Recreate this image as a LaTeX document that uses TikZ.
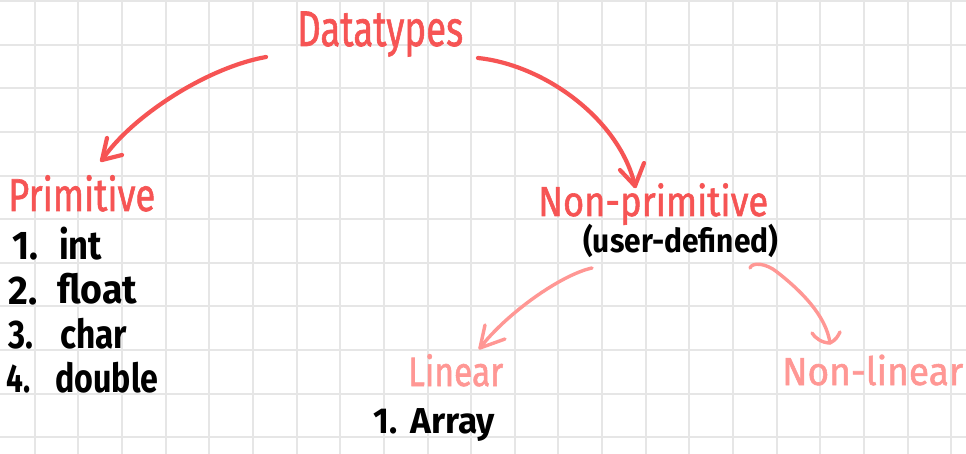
\documentclass[tikz,border=0pt]{standalone}
\usepackage{fontspec}
\setmainfont{Fira Sans}
\newfontfamily\handfont{Fira Sans}[FakeBold=1.4]
\usepackage{graphicx}
\usetikzlibrary{calc}

\definecolor{inkred}{HTML}{F65454}
\definecolor{inkpink}{HTML}{FF9794}
\definecolor{gridgray}{HTML}{E6E6E6}

% stretch a label horizontally to a given width, keeping its height
\newcommand{\wfit}[2]{\resizebox{#1pt}{\height}{#2}}

\begin{document}
\begin{tikzpicture}[x=1pt,y=-1pt,
  title/.style={anchor=base west, inner sep=0pt, text=inkred},
  subtitle/.style={anchor=base west, inner sep=0pt, text=inkpink},
  item/.style={anchor=base west, inner sep=0pt, text=black, font=\fontsize{40}{40}\selectfont\bfseries},
  mainarrow/.style={draw=inkred, line width=4.2pt, line cap=round, line join=round},
  subarrow/.style={draw=inkpink, line width=3.4pt, line cap=round, line join=round}]

\useasboundingbox (0,0) rectangle (966,454);
\fill[white] (0,0) rectangle (966,454);

% squared paper
\foreach \k in {0,...,21}
  \draw[gridgray, line width=2pt] ({34.8+43.64*\k},0) -- ({34.8+43.64*\k},454);
\foreach \k in {0,...,10}
  \draw[gridgray, line width=2pt] (0,{1+43.64*\k}) -- (966,{1+43.64*\k});

% headings
\node[title, font=\handfont\fontsize{50}{50}\selectfont] (dt) at (297,46) {\wfit{166}{Datatypes}};
\node[title, font=\handfont\fontsize{46}{46}\selectfont] (prim) at (8,211) {\wfit{147}{Primitive}};
\node[title, font=\handfont\fontsize{42}{42}\selectfont] (nprim) at (538,216) {\wfit{230}{Non-primitive}};
\node[anchor=base west, inner sep=0pt, font=\fontsize{33}{33}\selectfont\bfseries] (user) at (583,253) {\wfit{195}{(user-defined)}};
\node[subtitle, font=\handfont\fontsize{41}{41}\selectfont] (lin) at (408,386) {\wfit{95}{Linear}};
\node[subtitle, font=\handfont\fontsize{39}{39}\selectfont] (nlin) at (782,385) {\wfit{181}{Non-linear}};

% primitive types
\node[item] (n1) at (12,260) {\wfit{26}{1.}};
\node[item] (w1) at (59,260) {\wfit{43}{int}};
\node[item] (n2) at (8,304) {\wfit{29}{2.}};
\node[item] (w2) at (57,304) {\wfit{80}{float}};
\node[item] (n3) at (8,348) {\wfit{25}{3.}};
\node[item] (w3) at (60,348) {\wfit{67}{char}};
\node[item] (n4) at (6,392) {\wfit{24}{4.}};
\node[item] (w4) at (55,392) {\wfit{103}{double}};

% linear types
\node[item, font=\fontsize{36}{36}\selectfont\bfseries] (a1) at (373,433) {\wfit{24}{1.}};
\node[item, font=\fontsize{36}{36}\selectfont\bfseries] (aw) at (410,433) {\wfit{85}{Array}};

% arrow end points
\coordinate (dtL) at (266,57);
\coordinate (primTip) at (102,160);
\coordinate (dtR) at (478,58);
\coordinate (nprimTip) at (635,186);
\coordinate (userL) at (592,268);
\coordinate (linTip) at (480,348);
\coordinate (userR) at (750,268);
\coordinate (nlinTip) at (830,343);

% Datatypes -> Primitive
\draw[mainarrow] (dtL) .. controls (205,68) and (130,118) .. (primTip);
\draw[mainarrow] (primTip) -- ++(5,-22);
\draw[mainarrow] (primTip) -- ++(20,-5);

% Datatypes -> Non-primitive
\draw[mainarrow] (dtR) .. controls (545,65) and (620,120) .. (nprimTip);
\draw[mainarrow] (nprimTip) -- ++(-15,-16);
\draw[mainarrow] (nprimTip) -- ++(9,-23);

% Non-primitive -> Linear
\draw[subarrow] (userL) .. controls (560,275) and (505,315) .. (linTip);
\draw[subarrow] (linTip) -- ++(5,-23);
\draw[subarrow] (linTip) -- ++(25,-9);

% Non-primitive -> Non-linear
\draw[subarrow] (userR) .. controls (752,262) and (766,263) .. (777,272)
  .. controls (800,290) and (826,315) .. (nlinTip);
\draw[subarrow] (nlinTip) .. controls (822,343) and (815,338) .. ++(-18,-10);
\draw[subarrow] (nlinTip) .. controls (836,340) and (838,336) .. ++(10,-11);
\end{tikzpicture}
\end{document}
